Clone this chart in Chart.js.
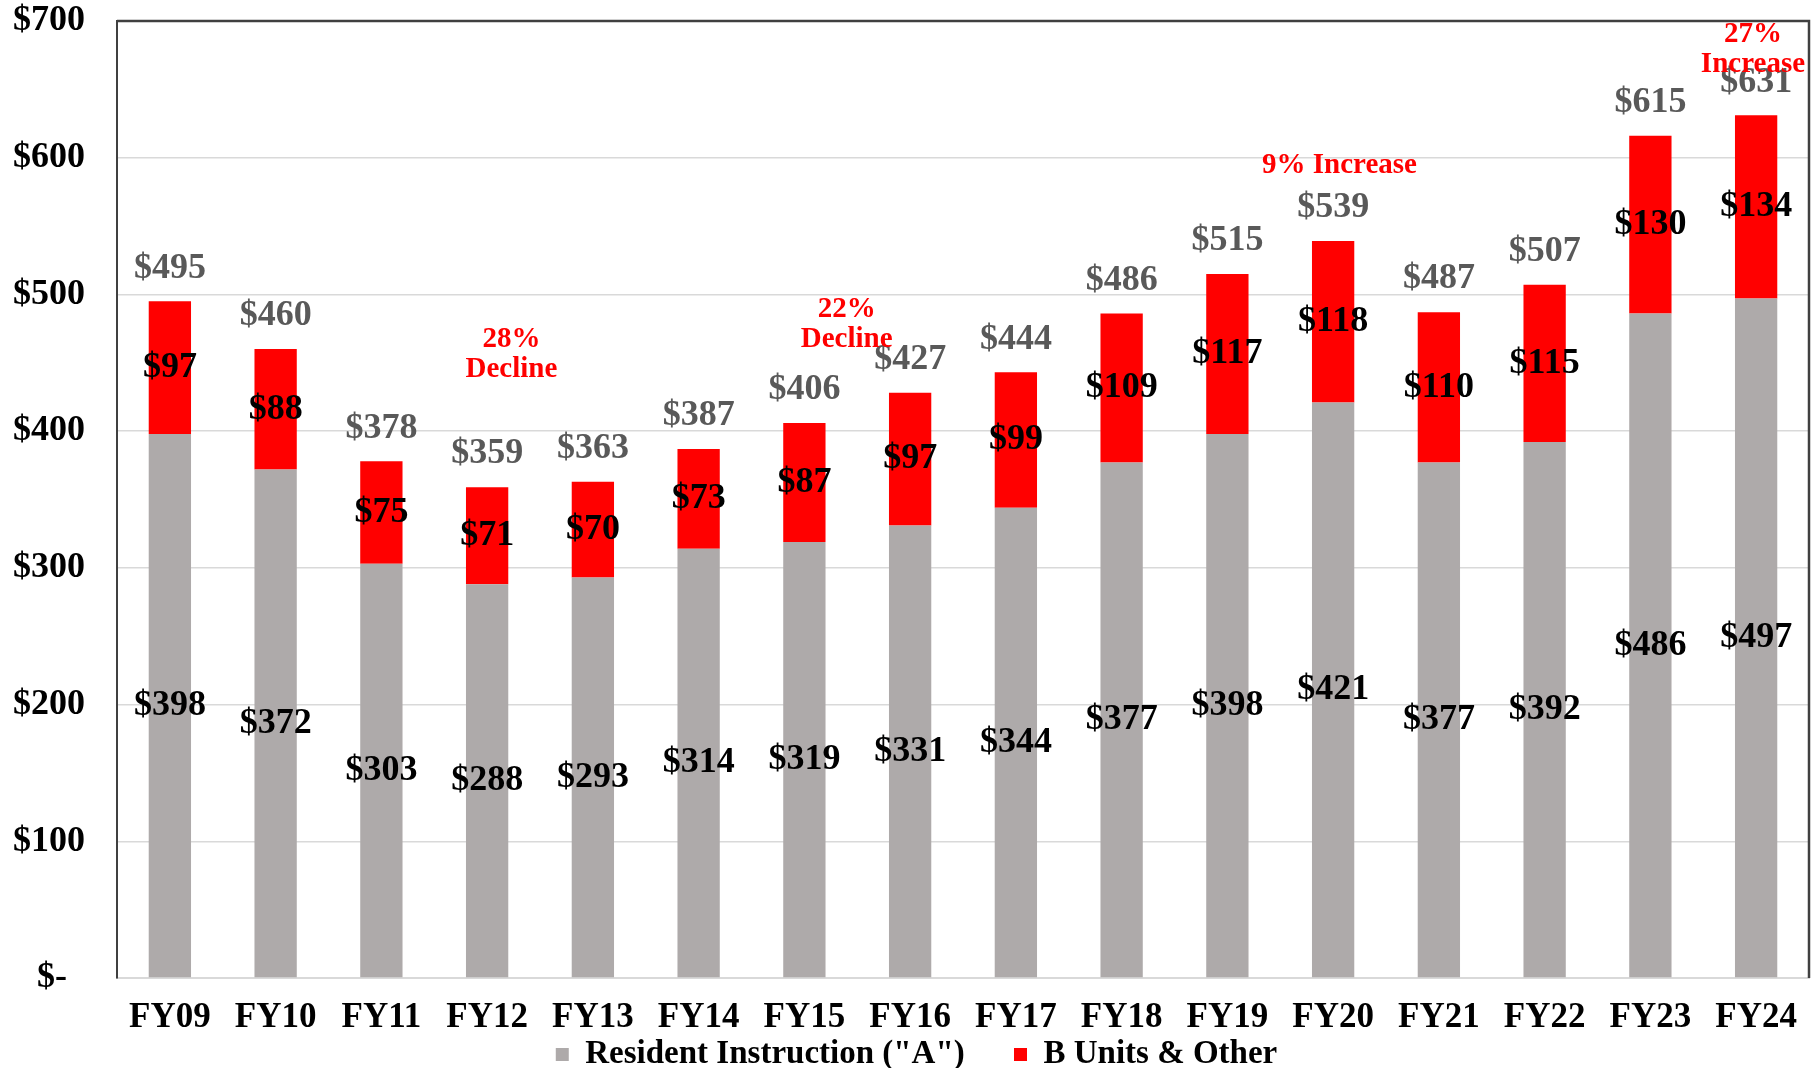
<!DOCTYPE html>
<html>
<head>
<meta charset="utf-8">
<title>Resident Instruction and B Units, FY09-FY24</title>
<script src="https://cdn.jsdelivr.net/npm/chart.js@4.4.1/dist/chart.umd.min.js"></script>
<style>
  html, body { margin: 0; padding: 0; background: #fff; }
  canvas { display: block; }
</style>
</head>
<body>
<canvas id="budget-chart" width="1818" height="1068"></canvas>
<script>
// --- data ($ millions) ---
const years     = ['FY09', 'FY10', 'FY11', 'FY12', 'FY13', 'FY14', 'FY15', 'FY16',
                   'FY17', 'FY18', 'FY19', 'FY20', 'FY21', 'FY22', 'FY23', 'FY24'];
const residentA = [398, 372, 303, 288, 293, 314, 319, 331, 344, 377, 398, 421, 377, 392, 486, 497];
const bUnits    = [97, 88, 75, 71, 70, 73, 87, 97, 99, 109, 117, 118, 110, 115, 130, 134];
const totals    = [495, 460, 378, 359, 363, 387, 406, 427, 444, 486, 515, 539, 487, 507, 615, 631];
const yTicks    = [0, 100, 200, 300, 400, 500, 600, 700];

// callouts, anchored in category index / dollar units
const callouts = [
    { lines: ['28%', 'Decline'],  at: [3.23, 456] },
    { lines: ['22%', 'Decline'],  at: [6.4, 478] },
    { lines: ['9% Increase'],     at: [11.06, 594] },
    { lines: ['27%', 'Increase'], at: [14.97, 679] },
];

const FONT = '"Liberation Serif", "Times New Roman", serif';
const GRAY = '#aeaaaa';
const RED  = '#ff0000';

Chart.defaults.font.family = FONT;
Chart.defaults.font.weight = 'bold';
Chart.defaults.color = '#000';

const money = v => v === 0 ? '$-  ' : '$' + v;

// segment values inside the bars, totals above the stack
const valueLabels = {
    id: 'valueLabels',
    afterDatasetsDraw(chart) {
        const ctx = chart.ctx;
        ctx.save();
        ctx.font = 'bold 36px ' + FONT;
        ctx.textAlign = 'center';
        ctx.textBaseline = 'middle';
        ctx.fillStyle = '#000';
        chart.data.datasets.forEach((ds, i) => {
            chart.getDatasetMeta(i).data.forEach((bar, j) => {
                const { x, y, base } = bar.getProps(['x', 'y', 'base'], true);
                ctx.fillText(money(ds.data[j]), x, (y + base) / 2);
            });
        });
        const topMeta = chart.getDatasetMeta(chart.data.datasets.length - 1);
        ctx.fillStyle = '#595959';
        topMeta.data.forEach((bar, j) => {
            ctx.fillText('$' + totals[j], bar.x, bar.y - 33);
        });
        ctx.restore();
    }
};

// red percentage callouts
const calloutText = {
    id: 'calloutText',
    afterDatasetsDraw(chart) {
        const ctx = chart.ctx;
        const xs = chart.scales.x, ys = chart.scales.y;
        ctx.save();
        ctx.font = 'bold 29px ' + FONT;
        ctx.textAlign = 'center';
        ctx.textBaseline = 'middle';
        ctx.fillStyle = RED;
        callouts.forEach(c => {
            const cx = xs.getPixelForValue(c.at[0]);
            const cy = ys.getPixelForValue(c.at[1]);
            const step = 30;
            const y0 = cy - (c.lines.length - 1) * step / 2;
            c.lines.forEach((t, k) => ctx.fillText(t, cx, y0 + k * step));
        });
        ctx.restore();
    }
};

// dark frame on the top and right of the plot area
const plotFrame = {
    id: 'plotFrame',
    afterDraw(chart) {
        const { ctx, chartArea: a } = chart;
        ctx.save();
        ctx.strokeStyle = '#404040';
        ctx.lineWidth = 2.5;
        ctx.beginPath();
        ctx.moveTo(a.left, a.top);
        ctx.lineTo(a.right, a.top);
        ctx.lineTo(a.right, a.bottom);
        ctx.stroke();
        ctx.restore();
    }
};

// nudge the centred legend a little to the right
const legendNudge = {
    id: 'legendNudge',
    afterLayout(chart) {
        if (chart.legend) chart.legend.left += 24;
    }
};

new Chart(document.getElementById('budget-chart'), {
    type: 'bar',
    data: {
        labels: years,
        datasets: [
            {
                label: 'Resident Instruction ("A")',
                data: residentA,
                backgroundColor: GRAY,
                borderWidth: 0,
                categoryPercentage: 1,
                barPercentage: 0.4,
            },
            {
                label: 'B Units & Other',
                data: bUnits,
                backgroundColor: RED,
                borderWidth: 0,
                categoryPercentage: 1,
                barPercentage: 0.4,
            },
        ]
    },
    options: {
        responsive: false,
        devicePixelRatio: 1,
        animation: false,
        layout: { padding: { left: 0, right: 9, top: 21, bottom: -13 } },
        plugins: {
            tooltip: { enabled: false },
            legend: {
                position: 'bottom',
                labels: {
                    color: '#000',
                    boxWidth: 13,
                    boxHeight: 13,
                    padding: 8,
                    font: { size: 33, weight: 'bold' },
                    generateLabels(chart) {
                        const items = Chart.defaults.plugins.legend.labels.generateLabels(chart);
                        items.forEach((it, i) => { if (i < items.length - 1) it.text += '     '; });
                        return items;
                    }
                }
            }
        },
        scales: {
            x: {
                stacked: true,
                grid: { display: false, drawTicks: false },
                border: { color: '#d9d9d9', width: 2 },
                ticks: { padding: 19, color: '#000', font: { size: 35, weight: 'bold' } },
                afterFit: s => { s.height = 52; }
            },
            y: {
                stacked: true,
                min: 0,
                max: 700,
                afterBuildTicks: s => { s.ticks = yTicks.map(v => ({ value: v })); },
                grid: { color: '#d9d9d9', lineWidth: 1.5, drawTicks: false },
                border: { color: '#404040', width: 2 },
                ticks: {
                    padding: 32,
                    color: '#000',
                    font: { size: 36, weight: 'bold' },
                    callback: v => money(v)
                },
                afterFit: s => {
                    s.width = 117;
                    s.paddingTop = 0;
                    s.paddingBottom = 0;
                }
            }
        }
    },
    plugins: [valueLabels, calloutText, plotFrame, legendNudge]
});
</script>
</body>
</html>
